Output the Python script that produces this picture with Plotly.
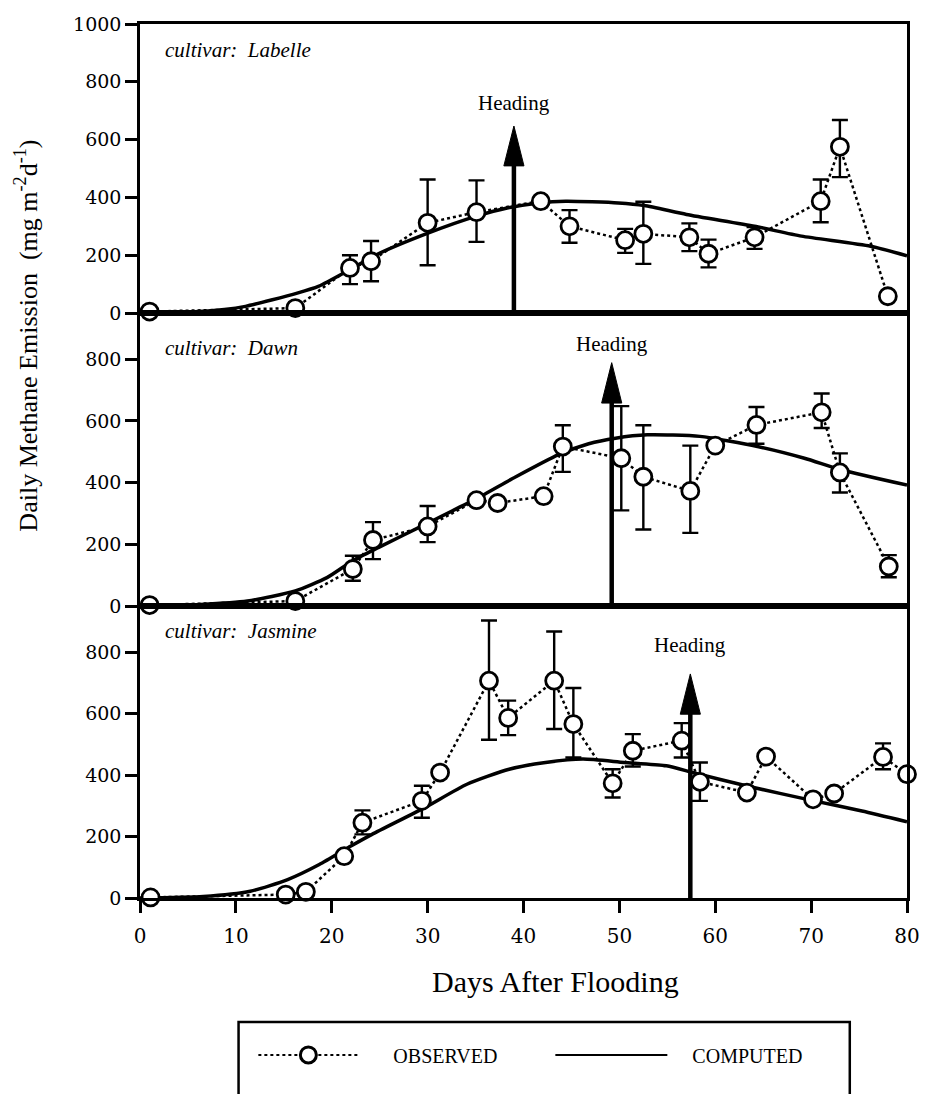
import plotly.graph_objects as go
from plotly.subplots import make_subplots

# ---------------- data ----------------
cultivars = ["Labelle", "Dawn", "Jasmine"]

# Labelle
lab_days = [1.0, 16.2, 21.9, 24.1, 30.0, 35.1, 41.8, 44.8, 50.6, 52.5, 57.3, 59.3, 64.1, 71.0, 73.0, 78.0]
lab_obs = [5, 17, 156, 179, 312, 349, 387, 300, 252, 274, 262, 205, 262, 387, 575, 58]
lab_err_up = [0, 0, 44, 70, 150, 110, 0, 56, 39, 111, 48, 49, 35, 75, 93, 0]
lab_err_dn = [0, 0, 56, 69, 147, 103, 0, 57, 44, 104, 48, 47, 40, 73, 105, 0]
lab_comp_days = [0, 5, 8.8, 11, 16.4, 18.6, 21.9, 24.7, 30.1, 35.1, 38.4, 41.6, 44.4, 49.9, 52.6, 57, 64.1, 69, 76.2, 80]
lab_comp = [0, 3, 12, 23, 69, 92, 150, 202, 277, 335, 364, 381, 387, 381, 372, 341, 300, 266, 231, 198]

# Dawn
dawn_days = [1.0, 16.2, 22.2, 24.3, 30.0, 35.1, 37.3, 42.1, 44.1, 50.2, 52.5, 57.4, 60.0, 64.3, 71.1, 73.0, 78.1]
dawn_obs = [3, 16, 120, 214, 258, 343, 334, 356, 517, 479, 419, 373, 520, 587, 628, 433, 128]
dawn_err_up = [0, 0, 43, 58, 66, 0, 0, 0, 69, 169, 167, 147, 0, 58, 61, 62, 37]
dawn_err_dn = [0, 0, 38, 62, 51, 0, 0, 0, 82, 169, 171, 136, 0, 61, 51, 65, 35]
dawn_comp_days = [0, 6.3, 11.2, 16.2, 19.5, 22.2, 24.9, 29.9, 35.1, 39.2, 43.6, 46.8, 49.6, 52.9, 58.4, 64.4, 69.3, 73.2, 80]
dawn_comp = [0, 5, 16, 49, 92, 147, 190, 267, 348, 419, 490, 526, 544, 555, 550, 517, 479, 441, 392]

# Jasmine
jas_days = [1.1, 15.2, 17.3, 21.3, 23.2, 29.4, 31.3, 36.4, 38.4, 43.2, 45.2, 49.3, 51.4, 56.5, 58.4, 63.3, 65.3, 70.2, 72.4, 77.5, 80.0]
jas_obs = [2, 11, 20, 136, 245, 316, 408, 707, 586, 707, 566, 373, 479, 512, 378, 343, 460, 321, 340, 459, 403]
jas_err_up = [0, 0, 0, 0, 40, 49, 0, 196, 56, 160, 117, 46, 54, 57, 63, 0, 0, 0, 0, 44, 0]
jas_err_dn = [0, 0, 0, 0, 38, 55, 0, 192, 56, 157, 109, 46, 51, 55, 62, 0, 0, 0, 0, 40, 0]
jas_comp_days = [0, 6.6, 11.5, 15.4, 18.7, 22, 24.2, 29.7, 34.1, 38.5, 42.3, 46.2, 50.5, 54.9, 57.7, 63.2, 70.3, 75.3, 80]
jas_comp = [0, 5, 22, 60, 109, 169, 207, 294, 370, 419, 441, 452, 441, 430, 408, 365, 316, 283, 248]

heading_day = [39.0, 49.2, 57.4]
heading_tip = [647, 789, 729]
heading_text_y = [728, 849, 822]

y_max = [1000, 950, 950]
y_ticks = [[0, 200, 400, 600, 800, 1000], [0, 200, 400, 600, 800], [0, 200, 400, 600, 800]]
x_ticks = [0, 10, 20, 30, 40, 50, 60, 70, 80]
label_y = [0.91, 0.88, 0.915]

obs_days = [lab_days, dawn_days, jas_days]
obs_vals = [lab_obs, dawn_obs, jas_obs]
err_up = [lab_err_up, dawn_err_up, jas_err_up]
err_dn = [lab_err_dn, dawn_err_dn, jas_err_dn]
comp_days = [lab_comp_days, dawn_comp_days, jas_comp_days]
comp_vals = [lab_comp, dawn_comp, jas_comp]

SERIF = "Liberation Serif"
TICKFONT = dict(family="DejaVu Serif", size=19, color="black")
NB = "&nbsp;"

fig = make_subplots(rows=3, cols=1, shared_xaxes=True, vertical_spacing=0,
                    row_heights=[289, 293, 292])

for i in range(3):
    r = i + 1
    fig.add_trace(go.Scatter(
        x=comp_days[i], y=comp_vals[i], mode="lines",
        line=dict(color="black", width=3.5, shape="spline", smoothing=0.6),
        name="COMPUTED", showlegend=False, cliponaxis=False), row=r, col=1)
    fig.add_trace(go.Scatter(
        x=obs_days[i], y=obs_vals[i], mode="lines+markers",
        line=dict(color="black", width=2.5, dash="dot"),
        marker=dict(symbol="circle", size=17, color="white",
                    line=dict(color="black", width=2.8)),
        error_y=dict(type="data", symmetric=False, array=err_up[i],
                     arrayminus=err_dn[i], color="black", thickness=2.4, width=8),
        name="OBSERVED", showlegend=False, cliponaxis=False), row=r, col=1)

# legend entries (two separate legends so each can be placed like the original)
fig.add_trace(go.Scatter(
    x=[None], y=[None], mode="lines+markers",
    line=dict(color="black", width=2, dash="dot"),
    marker=dict(symbol="circle", size=16, color="white", line=dict(color="black", width=3)),
    name=NB * 6 + "OBSERVED", showlegend=True, legend="legend"), row=3, col=1)
fig.add_trace(go.Scatter(
    x=[None], y=[None], mode="lines",
    line=dict(color="black", width=2),
    name=NB * 4 + "COMPUTED", showlegend=True, legend="legend2"), row=3, col=1)

shapes = []
annotations = []
for i in range(3):
    yref = "y" if i == 0 else f"y{i + 1}"
    xref = "x" if i == 0 else f"x{i + 1}"
    head_len = 40 / 290 * y_max[i]
    hd = heading_day[i]
    tip = heading_tip[i]
    shapes.append(dict(type="line", xref=xref, yref=yref, x0=hd, x1=hd, y0=0,
                       y1=tip - head_len * 0.9, line=dict(color="black", width=4.5)))
    shapes.append(dict(type="path", xref=xref, yref=yref,
                       path=f"M {hd - 1.05},{tip - head_len} L {hd},{tip} L {hd + 1.05},{tip - head_len} Z",
                       fillcolor="black", line=dict(color="black", width=1)))
    annotations.append(dict(x=hd, y=heading_text_y[i], xref=xref, yref=yref, text="Heading",
                            showarrow=False, font=dict(family=SERIF, size=21, color="black")))
    annotations.append(dict(x=0.03, y=label_y[i], xref=f"{xref} domain", yref=f"{yref} domain",
                            text=f"<i>cultivar:  {cultivars[i]}</i>", xanchor="left", yanchor="middle",
                            showarrow=False, font=dict(family=SERIF, size=21, color="black")))

# legend box
shapes.append(dict(type="rect", xref="paper", yref="paper", x0=0.1285, x1=0.9254,
                   y0=-0.27, y1=-0.1419, line=dict(color="black", width=2.5)))

annotations.append(dict(x=0.542, y=-0.096, xref="paper", yref="paper", text="Days After Flooding",
                        showarrow=False, font=dict(family=SERIF, size=30, color="black"),
                        xanchor="center", yanchor="middle"))
annotations.append(dict(x=-0.148, y=0.644, xref="paper", yref="paper",
                        text="Daily Methane Emission  (mg m<sup>-2</sup>d<sup>-1</sup>)",
                        textangle=-90, showarrow=False,
                        font=dict(family=SERIF, size=26, color="black"),
                        xanchor="center", yanchor="middle"))

axis_common = dict(showline=True, linecolor="black", linewidth=2.5, mirror=True,
                   showgrid=False, zeroline=False)
for i in range(3):
    r = i + 1
    fig.update_yaxes(range=[0, y_max[i]], tickvals=y_ticks[i], ticks="outside", ticklen=12,
                     tickwidth=2.5, tickcolor="black", tickfont=TICKFONT, row=r, col=1, **axis_common)
    if r < 3:
        fig.update_xaxes(range=[0, 80], ticks="", showticklabels=False, row=r, col=1, **axis_common)
    else:
        fig.update_xaxes(range=[0, 80], tickvals=x_ticks, ticks="outside", ticklen=12, tickwidth=2.5,
                         tickcolor="black", tickfont=dict(family="DejaVu Serif", size=20, color="black"),
                         ticklabelstandoff=6, row=r, col=1, **axis_common)

legend_font = dict(family=SERIF, size=20, color="black")
fig.update_layout(
    width=932, height=1094,
    margin=dict(l=140, r=14, t=24, b=196),
    paper_bgcolor="white", plot_bgcolor="white",
    shapes=shapes, annotations=annotations,
    showlegend=True,
    legend=dict(orientation="h", x=0.1478, y=-0.1796, xanchor="left", yanchor="middle",
                font=legend_font, itemwidth=100, bgcolor="rgba(0,0,0,0)", borderwidth=0),
    legend2=dict(orientation="h", x=0.535, y=-0.1796, xanchor="left", yanchor="middle",
                 font=legend_font, itemwidth=112, bgcolor="rgba(0,0,0,0)", borderwidth=0),
)

fig.write_html("out.html")
